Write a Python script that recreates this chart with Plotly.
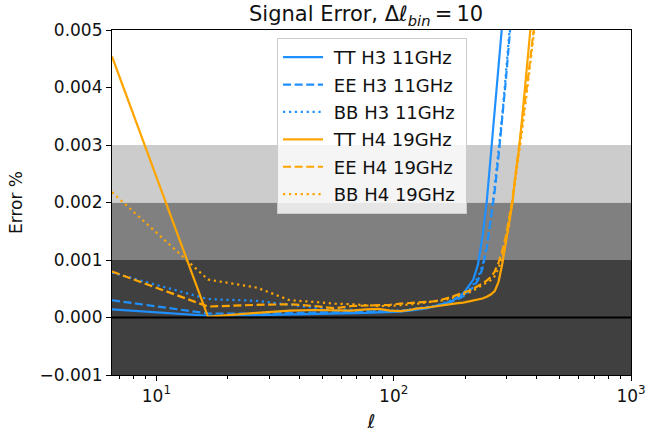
import numpy as np
import plotly.graph_objects as go

# Multipole bin centres (bin width 10)
ell = [6.5, 16.5, 26.5, 36.5, 46.5, 56.5, 66.5, 76.5, 86.5, 96.5,
       106.5, 116.5, 126.5, 136.5, 146.5, 156.5, 166.5, 176.5, 186.5, 196.5,
       206.5, 216.5, 226.5, 236.5, 246.5, 256.5, 266.5, 276.5, 286.5, 296.5,
       306.5, 316.5, 326.5, 336.5, 346.5, 356.5, 366.5, 376.5, 386.5, 396.5]

tt_h3 = [0.00014, 0.00003, 0.00004, 0.00005, 0.00006, 0.00006, 0.00007, 0.00008, 0.00009, 0.00009,
         0.00010, 0.00012, 0.00014, 0.00016, 0.00019, 0.00022, 0.00025, 0.00029, 0.00035, 0.00042,
         0.00054, 0.00066, 0.00092, 0.00140, 0.00200, 0.00280, 0.00350, 0.00420, 0.00500, 0.00580]
ee_h3 = [0.00030, 0.00007, 0.00007, 0.00008, 0.00008, 0.00009, 0.00009, 0.00010, 0.00010, 0.00011,
         0.00011, 0.00013, 0.00015, 0.00017, 0.00019, 0.00022, 0.00025, 0.00028, 0.00032, 0.00037,
         0.00044, 0.00053, 0.00065, 0.00085, 0.00120, 0.00170, 0.00220, 0.00280, 0.00340, 0.00410,
         0.00480, 0.00550]
bb_h3 = [0.00078, 0.00032, 0.00029, 0.00022, 0.00017, 0.00014, 0.00013, 0.00012, 0.00012, 0.00012,
         0.00012, 0.00014, 0.00016, 0.00018, 0.00020, 0.00023, 0.00026, 0.00030, 0.00034, 0.00039,
         0.00047, 0.00057, 0.00070, 0.00090, 0.00125, 0.00172, 0.00230, 0.00290, 0.00350, 0.00420,
         0.00490, 0.00560]
tt_h4 = [0.00454, 0.00001, 0.00008, 0.00012, 0.00013, 0.00012, 0.00012, 0.00014, 0.00015, 0.00012,
         0.00011, 0.00013, 0.00016, 0.00017, 0.00019, 0.00021, 0.00023, 0.00024, 0.00025, 0.00026,
         0.00028, 0.00030, 0.00031, 0.00033, 0.00036, 0.00040, 0.00046, 0.00062, 0.00092, 0.00130,
         0.00170, 0.00200, 0.00250, 0.00290, 0.00340, 0.00390, 0.00440, 0.00490, 0.00550]
ee_h4 = [0.00080, 0.00019, 0.00022, 0.00023, 0.00020, 0.00016, 0.00020, 0.00021, 0.00021, 0.00022,
         0.00024, 0.00025, 0.00026, 0.00027, 0.00028, 0.00030, 0.00033, 0.00036, 0.00040, 0.00043,
         0.00046, 0.00050, 0.00055, 0.00060, 0.00064, 0.00070, 0.00080, 0.00095, 0.00115, 0.00140,
         0.00170, 0.00205, 0.00250, 0.00290, 0.00330, 0.00370, 0.00410, 0.00450, 0.00490, 0.00530]
bb_h4 = [0.00218, 0.00066, 0.00052, 0.00030, 0.00027, 0.00024, 0.00023, 0.00021, 0.00020, 0.00020,
         0.00021, 0.00023, 0.00024, 0.00026, 0.00027, 0.00029, 0.00031, 0.00034, 0.00037, 0.00040,
         0.00043, 0.00047, 0.00052, 0.00056, 0.00060, 0.00065, 0.00072, 0.00085, 0.00105, 0.00130,
         0.00160, 0.00200, 0.00240, 0.00280, 0.00320, 0.00360, 0.00400, 0.00440, 0.00480, 0.00520]

BLUE = "#1e90ff"
ORANGE = "#ffa500"
DASH = "8px,3.6px"
DOT = "2.2px,3.7px"

series = [
    ("TT H3 11GHz", tt_h3, BLUE, "solid"),
    ("EE H3 11GHz", ee_h3, BLUE, DASH),
    ("BB H3 11GHz", bb_h3, BLUE, DOT),
    ("TT H4 19GHz", tt_h4, ORANGE, "solid"),
    ("EE H4 19GHz", ee_h4, ORANGE, DASH),
    ("BB H4 19GHz", bb_h4, ORANGE, DOT),
]

NBSP = "\u00a0"
fig = go.Figure()
for i, (name, vals, color, dash) in enumerate(series):
    fig.add_trace(go.Scatter(
        x=ell[:len(vals)], y=vals, mode="lines", name=NBSP + name + NBSP,
        legendgroup=f"g{i}",
        line=dict(color=color, width=2.2, dash=dash),
    ))

# Tolerance bands and zero line
bands = [(-0.001, 0.001, "#404040"), (0.001, 0.002, "#808080"), (0.002, 0.003, "#cccccc")]
for y0, y1, c in bands:
    fig.add_shape(type="rect", xref="x domain", yref="y", x0=0, x1=1, y0=y0, y1=y1,
                  fillcolor=c, line_width=0, layer="below")
fig.add_shape(type="line", xref="x domain", yref="y", x0=0, x1=1, y0=0, y1=0,
              line=dict(color="black", width=2), layer="above")

FONT = "DejaVu Sans"
minor_vals = [v * d for d in (1, 10, 100) for v in range(2, 10) if 6.5 <= v * d <= 1000]

fig.update_layout(
    width=648, height=432,
    margin=dict(l=112, r=17, t=30, b=57, autoexpand=False),
    paper_bgcolor="white", plot_bgcolor="white",
    font=dict(family=FONT, size=17, color="#111111"),
    title=dict(text="Signal Error, Δ<i>ℓ</i><sub><i>bin</i></sub>\u2009=\u200910",
               x=0.565, xanchor="center", y=0.968, yanchor="middle",
               font=dict(size=21, family=FONT)),
    legend=dict(x=0.318, y=0.977, xanchor="left", yanchor="top",
                bgcolor="rgba(255,255,255,0.8)", bordercolor="#cccccc", borderwidth=1,
                font=dict(size=18, family=FONT), tracegroupgap=1, itemwidth=40),
    showlegend=True,
)

fig.update_xaxes(
    type="log", range=[np.log10(ell[0]), 3],
    tickvals=[10, 100, 1000], ticktext=["10<sup>1</sup>", "10<sup>2</sup>", "10<sup>3</sup>"],
    ticks="outside", ticklen=5, tickwidth=1.2, tickcolor="black",
    minor=dict(tickvals=minor_vals, ticks="outside", ticklen=3, tickwidth=1, tickcolor="black",
               showgrid=False),
    showgrid=False, zeroline=False,
    showline=True, linecolor="black", linewidth=1.2, mirror=True,
    title=dict(text="<i>ℓ</i>", font=dict(size=19, family=FONT), standoff=10),
)
fig.update_yaxes(
    range=[-0.001, 0.005], tickvals=[-0.001, 0, 0.001, 0.002, 0.003, 0.004, 0.005],
    tickformat=".3f",
    ticks="outside", ticklen=5, tickwidth=1.2, tickcolor="black",
    showgrid=False, zeroline=False,
    showline=True, linecolor="black", linewidth=1.2, mirror=True,
    title=dict(text="Error %", font=dict(size=17, family=FONT), standoff=12),
)

fig.write_html("out.html")
